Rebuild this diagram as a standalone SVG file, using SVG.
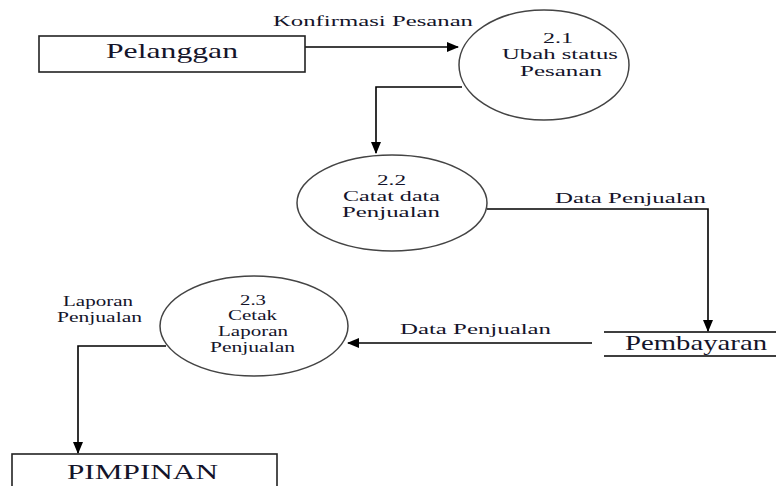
<svg xmlns="http://www.w3.org/2000/svg" width="776" height="486" viewBox="0 0 776 486" font-family="'Liberation Serif', 'DejaVu Serif', serif">
  <defs>
    <marker id="arrow" markerWidth="12" markerHeight="10" refX="11" refY="5" orient="auto" markerUnits="userSpaceOnUse">
      <path d="M0,0 L12,5 L0,10 Z" fill="#000"/>
    </marker>
    <style>
      text { font-family: 'Liberation Serif', 'DejaVu Serif', serif; fill: #14142a; }
      .big { font-size: 22px; }
      .lbl { font-size: 15px; }
      .shape { fill: #fff; stroke: #222; stroke-width: 1.6; }
      .bubble { fill: #fff; stroke: #444; stroke-width: 1.5; }
      .flow { fill: none; stroke: #000; stroke-width: 1.6; }
    </style>
  </defs>
  <rect width="776" height="486" fill="#fff"/>

  <!-- connectors -->
  <g id="connectors">
    <path class="flow" d="M305,47 H458" marker-end="url(#arrow)"/>
    <path class="flow" d="M462,87 H376 V153" marker-end="url(#arrow)"/>
    <path class="flow" d="M487,209 H708 V331" marker-end="url(#arrow)"/>
    <path class="flow" d="M592,343 H348" marker-end="url(#arrow)"/>
    <path class="flow" d="M166,346 H78 V453" marker-end="url(#arrow)"/>
    <text class="lbl" x="273" y="26" textLength="200" lengthAdjust="spacingAndGlyphs">Konfirmasi Pesanan</text>
    <text class="lbl" x="555" y="203" textLength="151" lengthAdjust="spacingAndGlyphs">Data Penjualan</text>
    <text class="lbl" x="400" y="334" textLength="151" lengthAdjust="spacingAndGlyphs">Data Penjualan</text>
    <text class="lbl" x="63" y="306" textLength="70" lengthAdjust="spacingAndGlyphs">Laporan</text>
    <text class="lbl" x="57" y="322" textLength="85" lengthAdjust="spacingAndGlyphs">Penjualan</text>
  </g>

  <!-- external entity: Pelanggan -->
  <g id="pelanggan">
    <rect class="shape" x="39" y="36" width="266" height="36"/>
    <text class="big" x="106" y="58" textLength="132" lengthAdjust="spacingAndGlyphs">Pelanggan</text>
  </g>

  <!-- process 2.1 -->
  <g id="proc-2-1">
    <ellipse class="bubble" cx="544" cy="65" rx="85" ry="55"/>
    <text class="lbl" x="543" y="43" textLength="30" lengthAdjust="spacingAndGlyphs">2.1</text>
    <text class="lbl" x="502" y="59" textLength="116" lengthAdjust="spacingAndGlyphs">Ubah status</text>
    <text class="lbl" x="520" y="76" textLength="82" lengthAdjust="spacingAndGlyphs">Pesanan</text>
  </g>

  <!-- process 2.2 -->
  <g id="proc-2-2">
    <ellipse class="bubble" cx="392" cy="203" rx="95" ry="48"/>
    <text class="lbl" x="377" y="185" textLength="29" lengthAdjust="spacingAndGlyphs">2.2</text>
    <text class="lbl" x="343" y="201" textLength="97" lengthAdjust="spacingAndGlyphs">Catat data</text>
    <text class="lbl" x="342" y="217" textLength="98" lengthAdjust="spacingAndGlyphs">Penjualan</text>
  </g>

  <!-- data store: Pembayaran -->
  <g id="pembayaran">
    <path class="flow" d="M604,332 H776 M604,356 H776"/>
    <text class="big" x="625" y="350" textLength="142" lengthAdjust="spacingAndGlyphs">Pembayaran</text>
  </g>

  <!-- process 2.3 -->
  <g id="proc-2-3">
    <ellipse class="bubble" cx="254" cy="326" rx="94" ry="50"/>
    <text class="lbl" x="240" y="305" textLength="26" lengthAdjust="spacingAndGlyphs">2.3</text>
    <text class="lbl" x="228" y="320" textLength="49" lengthAdjust="spacingAndGlyphs">Cetak</text>
    <text class="lbl" x="218" y="336" textLength="70" lengthAdjust="spacingAndGlyphs">Laporan</text>
    <text class="lbl" x="210" y="352" textLength="85" lengthAdjust="spacingAndGlyphs">Penjualan</text>
  </g>

  <!-- external entity: PIMPINAN -->
  <g id="pimpinan">
    <rect class="shape" x="12" y="454" width="265" height="40"/>
    <text class="big" x="67" y="479" textLength="151" lengthAdjust="spacingAndGlyphs">PIMPINAN</text>
  </g>
</svg>
